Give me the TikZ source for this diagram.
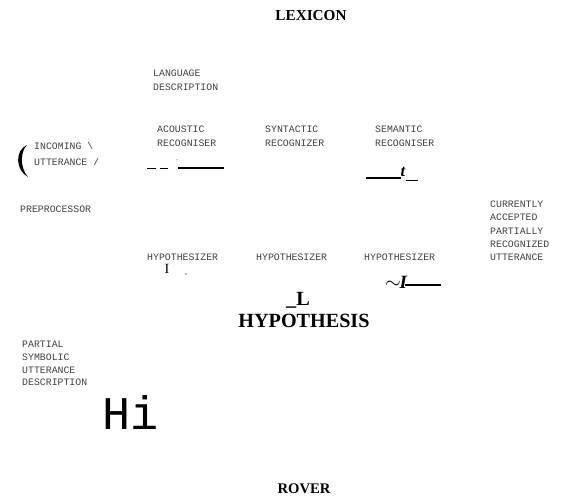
\documentclass[tikz,border=0pt]{standalone}
\usepackage{fontspec}
\setmainfont{Liberation Serif}
\setmonofont{Liberation Mono}
\tikzset{
  small/.style={font=\ttfamily\fontsize{8.4}{11.9}\selectfont, text=black!75, align=left, anchor=north west, inner sep=0pt},
  title/.style={font=\bfseries\fontsize{13}{16}\selectfont, inner sep=0pt},
  bigtitle/.style={font=\bfseries\fontsize{17.2}{19}\selectfont, inner sep=0pt},
  stroke/.style={line width=1.6pt},
  thin stroke/.style={line width=0.5pt}
}
\begin{document}
\begin{tikzpicture}[x=0.03cm,y=-0.03cm]
  \useasboundingbox (0,0) rectangle (565,497);
  % headings
  \node[title] (lexicon) at (311,16) {LEXICON};
  \node[bigtitle] (hyp) at (304,321) {HYPOTHESIS};
  \node[bigtitle] (hypl) at (298,300) {\_L};
  \node[title, font=\bfseries\fontsize{12.5}{15}\selectfont] (rover) at (304,489) {ROVER};
  % recognisers
  \node[small] (lang) at (153,70) {LANGUAGE\\DESCRIPTION};
  \node[small] (acoustic) at (157,126) {ACOUSTIC\\RECOGNISER};
  \node[small] (syntactic) at (265,126) {SYNTACTIC\\RECOGNIZER};
  \node[small] (semantic) at (375,126) {SEMANTIC\\RECOGNISER};
  % input side
  \fill (27,145) .. controls (15,150) and (15,170) .. (28,177)
        .. controls (20,168) and (20,152) .. (27,145);
  \node[small] (incoming) at (34,142) {INCOMING \textbackslash};
  \node[small] (utterance) at (34,158) {UTTERANCE /};
  \node[small] (prep) at (20,206) {PREPROCESSOR};
  % output side
  \node[small, font=\ttfamily\fontsize{8.4}{11.2}\selectfont] (current) at (490,201)
    {CURRENTLY\\ACCEPTED\\PARTIALLY\\RECOGNIZED\\UTTERANCE};
  % hypothesizers
  \node[small] (hyp1) at (147,254) {HYPOTHESIZER};
  \node[small] (hyp2) at (256,254) {HYPOTHESIZER};
  \node[small] (hyp3) at (364,254) {HYPOTHESIZER};
  \node[small, font=\ttfamily\fontsize{8.4}{10.8}\selectfont] (partial) at (22,341)
    {PARTIAL\\SYMBOLIC\\UTTERANCE\\DESCRIPTION};
  \node[font=\ttfamily\fontsize{40}{40}\selectfont, inner sep=0pt] (hi) at (131,413) {Hi};
  % stray marks
  \draw[thin stroke] (147,168) -- (156,168) (160,168) -- (168,168);
  \node[font=\tiny, inner sep=0pt] (tick) at (177,162) {'};
  \draw[stroke] (178,168) -- (224,168);
  \draw[stroke] (366,178) -- (401,178);
  \node[font=\bfseries\itshape\fontsize{14}{14}\selectfont, inner sep=0pt] (tmark) at (403,172) {t};
  \draw[thin stroke] (406,180) -- (418,180);
  \node[font=\fontsize{12}{12}\selectfont, inner sep=0pt] (imark) at (167,269) {I};
  \node[font=\tiny, inner sep=0pt] (commas) at (186,275) {,,};
  \node[font=\bfseries\itshape\fontsize{16}{16}\selectfont, inner sep=0pt] (tilde) at (396,282) {$\sim$\kern-1pt I};
  \draw[stroke] (405,285) -- (441,285);
\end{tikzpicture}
\end{document}
